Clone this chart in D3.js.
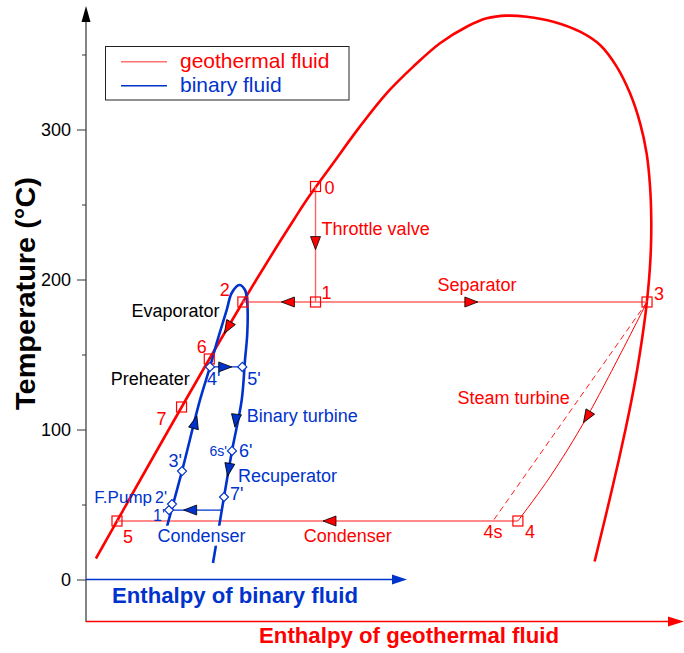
<!DOCTYPE html>
<html>
<head>
<meta charset="utf-8">
<script src="https://cdn.jsdelivr.net/npm/d3@7"></script>
<style>
  body { margin: 0; background: #fff; }
  text { font-family: "Liberation Sans", Arial, sans-serif; }
</style>
</head>
<body>
<svg id="chart" width="684" height="653"></svg>
<script>
const RED = '#ff0000', RED_LT = '#ff6464', BLUE = '#0033cc';

// ── data ─────────────────────────────────────────────
// water saturation dome: liquid side going up, over the critical point, vapour side going down
const domeH = [58.8, 83.9, 167.5, 251.1, 334.9, 419.1, 503.8, 589.2, 675.5, 763.2, 852.3, 943.6, 1037.6, 1100, 1231, 1363, 1495,
               1627, 1759, 1891, 1990, 2088, 2187, 2319, 2451, 2550, 2632, 2698, 2748, 2780, 2797,
               2803, 2801, 2792, 2777, 2757, 2733.5, 2706, 2675.6, 2643, 2608.8, 2573.5, 2537.4, 2523];
const domeT = [14, 20, 40, 60, 80, 100, 120, 140, 160, 180, 200, 220, 240, 253, 277.5, 301.9, 324.1,
               341.9, 357.5, 368.5, 374.1, 375.9, 375.2, 371.9, 365.2, 356.3, 341.9, 324.1, 304.1, 284.1, 262,
               240, 220, 200, 180, 160, 140, 120, 100, 80, 60, 40, 20, 12];

// geothermal state points
const geoNames = ['0', '1', '2', '3', '4', '4s', '5', '6', '7'];
const geoH = [1144, 1144, 785, 2782, 2144, 2021, 163, 619, 482];
const geoT = [262, 185, 185, 185, 39, 39, 39, 147, 115];

// steam turbine expansion 3 -> 4
const turbineH = [2782, 2485, 2302, 2144];
const turbineT = [185, 108.3, 68.3, 39];

// binary fluid dome (liquid side up, vapour side down)
const binDomeH = [200.8, 205.6, 240.8, 285.9, 311, 327.8, 352.9, 365.4, 384.5, 398.7, 404.5, 404.5, 398.7, 390.5, 366.1, 346.1, 318.5];
const binDomeT = [33, 37.7, 72.3, 119.7, 141.7, 157.7, 179.7, 191, 196.3, 193, 184.3, 164.3, 146.3, 119.7, 85.7, 55, 11];

// binary state points
const binNames = ["1'", "2'", "3'", "4'", "5'", "6'", "7'"];
const binH = [208.2, 215.7, 240.8, 311, 392, 366.1, 346.1];
const binT = [46.3, 50.3, 72.3, 141.7, 141.7, 85.7, 55];
const condStart = [340.6, 46.3];   // recuperator outlet on vapour line, start of condensing line

const yTicks = [0, 100, 200, 300];
const yMinor = [50, 150, 250, 350];

// ── scales ───────────────────────────────────────────
const svg = d3.select('#chart');
const y  = d3.scaleLinear().domain([0, 380]).range([579.5, 9.5]);
const xG = d3.scaleLinear().domain([0, 2940]).range([84, 679]);
const xB = d3.scaleLinear().domain([0, 800]).range([86, 405]);

const geoPt = Object.fromEntries(geoNames.map((n, i) => [n, [xG(geoH[i]), y(geoT[i])]]));
const binPt = Object.fromEntries(binNames.map((n, i) => [n, [xB(binH[i]), y(binT[i])]]));
binPt.c = [xB(condStart[0]), y(condStart[1])];

const line = d3.line().curve(d3.curveCatmullRom.alpha(0.5));

// ── axes ─────────────────────────────────────────────
const yAxis = svg.append('g').attr('transform', 'translate(86,0)')
  .call(d3.axisLeft(y).tickValues(yTicks).tickSize(9).tickPadding(6));
yAxis.select('.domain').remove();
yAxis.selectAll('line').attr('stroke', '#333');
yAxis.selectAll('text').attr('font-size', 18).attr('fill', '#000')
  .style('font-family', '"Liberation Sans", Arial, sans-serif');
const yMin = svg.append('g').attr('transform', 'translate(86,0)')
  .call(d3.axisLeft(y).tickValues(yMinor).tickSize(4).tickFormat(''));
yMin.select('.domain').remove();
yMin.selectAll('line').attr('stroke', '#333');

svg.append('line').attr('x1', 86).attr('x2', 86).attr('y1', 622).attr('y2', 20)
  .attr('stroke', '#333').attr('stroke-width', 1.2);
svg.append('path').attr('d', 'M81.5,22L90.5,22L86,6Z').attr('fill', '#000');

// binary enthalpy axis
svg.append('line').attr('x1', 86).attr('x2', 394).attr('y1', y(0)).attr('y2', y(0))
  .attr('stroke', BLUE).attr('stroke-width', 1.3);
svg.append('path').attr('d', `M392,${y(0) - 5}L407,${y(0)}L392,${y(0) + 5}Z`).attr('fill', BLUE);

// geothermal enthalpy axis
svg.append('line').attr('x1', 86).attr('x2', 670).attr('y1', 621.5).attr('y2', 621.5)
  .attr('stroke', RED).attr('stroke-width', 1.3);
svg.append('path').attr('d', 'M668,616.5L684,621.5L668,626.5Z').attr('fill', RED);

svg.append('text').attr('transform', `translate(35,293.5) rotate(-90)`)
  .attr('text-anchor', 'middle').attr('font-size', 27).attr('font-weight', 'bold')
  .attr('textLength', 233).attr('lengthAdjust', 'spacingAndGlyphs')
  .text('Temperature (°C)');
svg.append('text').attr('x', 112).attr('y', 603).attr('font-size', 22).attr('font-weight', 'bold')
  .attr('fill', BLUE).attr('textLength', 246).attr('lengthAdjust', 'spacingAndGlyphs')
  .text('Enthalpy of binary fluid');
svg.append('text').attr('x', 259).attr('y', 643).attr('font-size', 22).attr('font-weight', 'bold')
  .attr('fill', RED).attr('textLength', 300).attr('lengthAdjust', 'spacingAndGlyphs')
  .text('Enthalpy of geothermal fluid');

// ── geothermal fluid ─────────────────────────────────
svg.append('path').attr('d', line(domeH.map((h, i) => [xG(h), y(domeT[i])])))
  .attr('fill', 'none').attr('stroke', RED).attr('stroke-width', 2.6);

const geoSegs = [['0', '1'], ['1', '2'], ['1', '3'], ['4', '5']];
svg.append('g').selectAll('line').data(geoSegs).join('line')
  .attr('x1', d => geoPt[d[0]][0]).attr('y1', d => geoPt[d[0]][1])
  .attr('x2', d => geoPt[d[1]][0]).attr('y2', d => geoPt[d[1]][1])
  .attr('stroke', RED_LT).attr('stroke-width', 1.4);

svg.append('line')
  .attr('x1', geoPt['3'][0]).attr('y1', geoPt['3'][1])
  .attr('x2', geoPt['4s'][0]).attr('y2', geoPt['4s'][1])
  .attr('stroke', RED).attr('stroke-width', 0.9).attr('stroke-dasharray', '6,4');

svg.append('path')
  .attr('d', line(turbineH.map((h, i) => [xG(h), y(turbineT[i])])))
  .attr('fill', 'none').attr('stroke', RED).attr('stroke-width', 1);

// ── binary fluid ─────────────────────────────────────
svg.append('path').attr('d', line(binDomeH.map((h, i) => [xB(h), y(binDomeT[i])])))
  .attr('fill', 'none').attr('stroke', BLUE).attr('stroke-width', 2.6);

const binSegs = [["4'", "5'"], ['c', "1'"]];
svg.append('g').selectAll('line').data(binSegs).join('line')
  .attr('x1', d => binPt[d[0]][0]).attr('y1', d => binPt[d[0]][1])
  .attr('x2', d => binPt[d[1]][0]).attr('y2', d => binPt[d[1]][1])
  .attr('stroke', BLUE).attr('stroke-width', 1.2);

// ── flow arrows ──────────────────────────────────────
const arrows = [
  { a: geoPt['0'], b: geoPt['1'], f: 0.49, c: RED },
  { a: geoPt['1'], b: geoPt['2'], f: 0.38, c: RED },
  { a: geoPt['1'], b: geoPt['3'], f: 0.47, c: RED },
  { a: geoPt['4'], b: geoPt['5'], f: 0.47, c: RED },
  { a: geoPt['2'], b: geoPt['6'], f: 0.45, c: RED },
  { a: [xG(turbineH[1]), y(turbineT[1])], b: [xG(turbineH[2]), y(turbineT[2])], f: 0, c: RED },
  { a: binPt["3'"], b: binPt["4'"], f: 0.47, c: BLUE },
  { a: binPt["5'"], b: binPt["6'"], f: 0.64, c: BLUE },
  { a: binPt["6'"], b: binPt["7'"], f: 0.41, c: BLUE },
  { a: binPt["4'"], b: binPt["5'"], f: 0.47, c: BLUE },
  { a: binPt.c,     b: binPt["1'"], f: 0.6,  c: BLUE }
];
svg.append('g').selectAll('path').data(arrows).join('path')
  .attr('d', 'M6.5,0L-6.5,-5L-6.5,5Z')
  .attr('transform', d => {
    const px = d.a[0] + d.f * (d.b[0] - d.a[0]), py = d.a[1] + d.f * (d.b[1] - d.a[1]);
    const ang = Math.atan2(d.b[1] - d.a[1], d.b[0] - d.a[0]) * 180 / Math.PI;
    return `translate(${px},${py}) rotate(${ang})`;
  })
  .attr('fill', d => d.c).attr('stroke', '#000').attr('stroke-width', 0.8);

// ── markers ──────────────────────────────────────────
svg.append('g').selectAll('rect').data(geoNames.filter(n => n !== '4s')).join('rect')
  .attr('x', n => geoPt[n][0] - 5).attr('y', n => geoPt[n][1] - 5)
  .attr('width', 10).attr('height', 10)
  .attr('fill', 'none').attr('stroke', RED).attr('stroke-width', 1.2);

svg.append('g').selectAll('path').data(binNames).join('path')
  .attr('d', 'M0,-4.5L4.5,0L0,4.5L-4.5,0Z')
  .attr('transform', n => `translate(${binPt[n][0]},${binPt[n][1]})`)
  .attr('fill', '#fff').attr('stroke', BLUE).attr('stroke-width', 1.2);

// ── labels ───────────────────────────────────────────
function label(x, yy, txt, color, opts = {}) {
  const t = svg.append('text').attr('x', x).attr('y', yy)
    .attr('font-size', opts.size || 18).attr('fill', color)
    .attr('text-anchor', opts.anchor || 'start').text(txt);
  if (opts.bg) {
    const b = t.node().getBBox();
    svg.insert('rect', () => t.node())
      .attr('x', b.x - 1).attr('y', b.y).attr('width', b.width + 2).attr('height', b.height)
      .attr('fill', '#fff');
  }
  return t;
}

const geoLabelOff = {
  '0': [9, 7, 'start'], '1': [6, -3, 'start'], '2': [-13, -6, 'end'], '3': [7, -2, 'start'],
  '4': [7, 17, 'start'], '4s': [0, 17, 'middle'], '5': [6, 22, 'start'], '6': [-2.5, -6, 'end'], '7': [-15, 18, 'end']
};
geoNames.forEach(n => {
  const [dx, dy, anc] = geoLabelOff[n];
  label(geoPt[n][0] + dx, geoPt[n][1] + dy, n, RED, { anchor: anc });
});

// 1' and 2' sit stacked next to the pump, slightly smaller
const binLabelOff = {
  "1'": [-4, 11, 'end', 16], "2'": [-5, -1, 'end', 16], "3'": [0, -4, 'end', 18], "4'": [-3, 18, 'start', 18],
  "5'": [5, 18, 'start', 18], "6'": [7, 6, 'start', 18], "7'": [6, 3, 'start', 18]
};
binNames.forEach(n => {
  const [dx, dy, anc, fs] = binLabelOff[n];
  label(binPt[n][0] + dx, binPt[n][1] + dy, n, BLUE, { anchor: anc, size: fs });
});
label(binPt["6'"][0] - 5, binPt["6'"][1] + 5, "6s'", BLUE, { anchor: 'end', size: 14 });
label(binPt["2'"][0] - 20, binPt["2'"][1] - 1, 'F.Pump', BLUE, { anchor: 'end', size: 17 });

// process names
label(xG(1174), y(229.7), 'Throttle valve', RED);
label(xG(1747), y(192.5), 'Separator', RED);
label(xG(1846), y(117), 'Steam turbine', RED);
label(xG(1086), y(25), 'Condenser', RED);
label(xG(235), y(175.2), 'Evaporator', '#000');
label(xG(132), y(129.7), 'Preheater', '#000');
label(xB(403), y(105.2), 'Binary turbine', BLUE);
label(xB(381), y(65.2), 'Recuperator', BLUE);
label(xB(289.6), y(25.2), 'Condenser', BLUE, { anchor: 'middle', bg: true });

// ── legend ───────────────────────────────────────────
const lg = svg.append('g');
lg.append('rect').attr('x', 105.5).attr('y', 46.5).attr('width', 243.5).attr('height', 53.5)
  .attr('fill', '#fff').attr('stroke', '#222').attr('stroke-width', 1);
[['geothermal fluid', '#ff7070', RED], ['binary fluid', BLUE, BLUE]].forEach((d, i) => {
  const yy = 61.7 + i * 24;
  lg.append('line').attr('x1', 121).attr('x2', 167).attr('y1', yy).attr('y2', yy)
    .attr('stroke', d[1]).attr('stroke-width', 1.4);
  lg.append('text').attr('x', 180).attr('y', yy + 6.5).attr('font-size', 21).attr('fill', d[2]).text(d[0]);
});
</script>
</body>
</html>
